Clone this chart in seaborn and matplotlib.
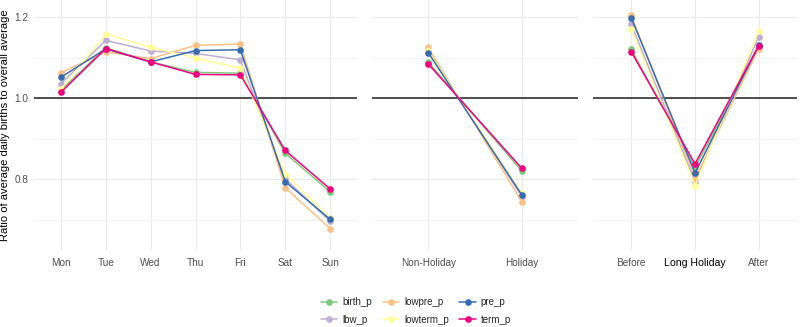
import numpy as np
import pandas as pd
import matplotlib
matplotlib.use("Agg")
import matplotlib.pyplot as plt
import seaborn as sns
from matplotlib.ticker import FixedLocator

series = ["birth_p", "lbw_p", "lowpre_p", "lowterm_p", "pre_p", "term_p"]
colors = ["#7FC97F", "#BEAED4", "#FDC086", "#FFFF99", "#386CB0", "#F0027F"]

days = ["Mon", "Tue", "Wed", "Thu", "Fri", "Sat", "Sun"]
day_vals = {
    "birth_p":   [1.020, 1.125, 1.090, 1.064, 1.062, 0.864, 0.769],
    "lbw_p":     [1.036, 1.143, 1.117, 1.111, 1.095, 0.801, 0.696],
    "lowpre_p":  [1.063, 1.115, 1.098, 1.131, 1.134, 0.779, 0.678],
    "lowterm_p": [1.022, 1.159, 1.126, 1.100, 1.074, 0.813, 0.704],
    "pre_p":     [1.052, 1.122, 1.090, 1.118, 1.120, 0.794, 0.701],
    "term_p":    [1.015, 1.123, 1.090, 1.059, 1.058, 0.871, 0.776],
}

hol = ["Non-Holiday", "Holiday"]
hol_vals = {
    "birth_p":   [1.090, 0.820],
    "lbw_p":     [1.118, 0.757],
    "lowpre_p":  [1.126, 0.744],
    "lowterm_p": [1.116, 0.765],
    "pre_p":     [1.113, 0.761],
    "term_p":    [1.085, 0.827],
}

longhol = ["Before", "Long Holiday", "After"]
longhol_vals = {
    "birth_p":   [1.121, 0.829, 1.128],
    "lbw_p":     [1.183, 0.794, 1.152],
    "lowpre_p":  [1.205, 0.801, 1.123],
    "lowterm_p": [1.171, 0.784, 1.166],
    "pre_p":     [1.199, 0.815, 1.131],
    "term_p":    [1.115, 0.838, 1.130],
}

y_major = [0.8, 1.0, 1.2]
y_minor = [0.7, 0.9, 1.1]
ylabel = "Ratio of average daily births to overall average"


def long_df(cats, vals):
    rows = []
    for s in series:
        for c, v in zip(cats, vals[s]):
            rows.append({"cat": c, "series": s, "value": v})
    return pd.DataFrame(rows)


sns.set_theme(style="white")
plt.rcParams["font.family"] = ["Liberation Sans", "DejaVu Sans"]

fig = plt.figure(figsize=(8, 3.27), dpi=100)
W, H = 800, 327
bottom = 1 - 250 / H
height = 250 / H
panels = [(34, 357, days, day_vals), (372, 578, hol, hol_vals), (593, 797, longhol, longhol_vals)]
axes = []
for i, (l, r, cats, vals) in enumerate(panels):
    ax = fig.add_axes([l / W, bottom, (r - l) / W, height])
    axes.append(ax)
    df = long_df(cats, vals)
    sns.lineplot(data=df, x="cat", y="value", hue="series", hue_order=series,
                 palette=colors, marker="o", markersize=4.8, markeredgewidth=0,
                 linewidth=1.1, sort=False, errorbar=None, ax=ax, legend=(i == 0))
    ax.axhline(1.0, color="#222222", linewidth=1.1, zorder=1)
    ax.set_xlim(-0.6, len(cats) - 1 + 0.6)
    ax.set_ylim(0.625, 1.243)
    ax.yaxis.set_major_locator(FixedLocator(y_major))
    ax.yaxis.set_minor_locator(FixedLocator(y_minor))
    ax.grid(True, which="major", color="#EBEBEB", linewidth=0.9)
    ax.grid(True, which="minor", axis="y", color="#F3F3F3", linewidth=0.6)
    ax.set_axisbelow(True)
    for sp in ax.spines.values():
        sp.set_visible(False)
    ax.tick_params(axis="both", which="both", length=0, labelsize=7.2, labelcolor="#4D4D4D")
    ax.tick_params(axis="x", pad=6)
    ax.tick_params(axis="y", pad=4)
    ax.set_xlabel("")
    if i == 0:
        ax.set_ylabel(ylabel, fontsize=8.0, color="black", labelpad=3)
        ax.set_yticklabels(["0.8", "1.0", "1.2"])
    else:
        ax.set_ylabel("")
        ax.set_yticklabels([])
    if i == 2:
        for t in ax.get_xticklabels():
            if t.get_text() == "Long Holiday":
                t.set_color("black")
                t.set_fontsize(7.6)

handles, labels = axes[0].get_legend_handles_labels()
axes[0].get_legend().remove()
fig.legend(handles, labels, loc="center", bbox_to_anchor=(416 / W, 1 - 311 / H),
           ncol=3, frameon=False, fontsize=7.0, handlelength=1.7, columnspacing=1.1,
           labelspacing=0.8, handletextpad=0.5, borderpad=0)

fig.savefig("out.png", dpi=100)
